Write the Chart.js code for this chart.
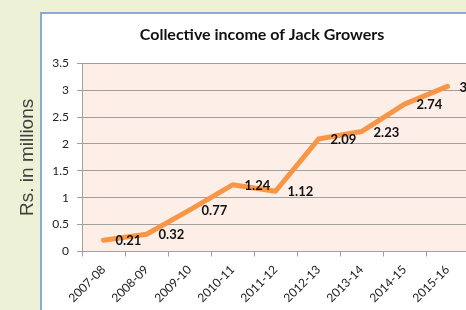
<!DOCTYPE html>
<html>
<head>
<meta charset="utf-8">
<script src="https://cdn.jsdelivr.net/npm/chart.js@4"></script>
<style>
  html, body { margin: 0; padding: 0; overflow: hidden; background: #EDF2D7; }
  #wrap { position: absolute; left: 0; top: 0; }
</style>
</head>
<body>
<div id="wrap"><canvas id="c" width="490" height="330"></canvas></div>
<script>
const years = ['2007-08', '2008-09', '2009-10', '2010-11', '2011-12', '2012-13', '2013-14', '2014-15', '2015-16'];
const income = [0.21, 0.32, 0.77, 1.24, 1.12, 2.09, 2.23, 2.74, 3.07];
const yTicks = [0, 0.5, 1, 1.5, 2, 2.5, 3, 3.5];

// green page, white chart box and pink plot area
const backdrop = {
    id: 'backdrop',
    afterLayout(chart) {
        // centre the title on the white box, not on the whole canvas
        if (chart.titleBlock) {
            chart.titleBlock.left = 55;
            chart.titleBlock.right = 469;
        }
    },
    beforeDraw(chart) {
        const ctx = chart.ctx;
        const a = chart.chartArea;
        ctx.save();
        ctx.fillStyle = '#EDF2D7';
        ctx.fillRect(0, 0, chart.width, chart.height);
        ctx.fillStyle = '#ffffff';
        ctx.fillRect(41, 13, chart.width, chart.height);
        ctx.strokeStyle = '#8DA9DA';
        ctx.lineWidth = 2;
        ctx.strokeRect(41, 13, chart.width, chart.height);
        ctx.fillStyle = '#FDEEE7';
        ctx.fillRect(a.left, a.top, a.right - a.left, a.bottom - a.top);
        ctx.restore();
    }
};

// value labels to the right of each point
const valueLabels = {
    id: 'valueLabels',
    afterDatasetsDraw(chart) {
        const ctx = chart.ctx;
        const meta = chart.getDatasetMeta(0);
        ctx.save();
        ctx.font = 'bold 13px Lato';
        ctx.fillStyle = '#111';
        ctx.textAlign = 'left';
        ctx.textBaseline = 'middle';
        meta.data.forEach((pt, i) => {
            ctx.fillText(income[i].toFixed(2), pt.x + 12, pt.y + 1);
        });
        ctx.restore();
    }
};

new Chart(document.getElementById('c'), {
    type: 'line',
    data: {
        labels: years,
        datasets: [{
            data: income,
            borderColor: '#F79646',
            borderWidth: 5,
            borderCapStyle: 'round',
            borderJoinStyle: 'round',
            pointRadius: 0,
            tension: 0
        }]
    },
    options: {
        responsive: false,
        animation: false,
        devicePixelRatio: 1,
        layout: { padding: { left: 0, right: 21, top: 0, bottom: 0 } },
        plugins: {
            legend: { display: false },
            tooltip: { enabled: false },
            title: {
                display: true,
                text: 'Collective income of Jack Growers',
                color: '#111',
                font: { family: 'Lato', size: 16, weight: 'bold' },
                padding: { top: 25, bottom: 19 }
            }
        },
        scales: {
            x: {
                offset: true,
                grid: { offset: true, drawOnChartArea: false, tickLength: 5, color: '#A0A0A0' },
                border: { color: '#A0A0A0' },
                ticks: {
                    color: '#222',
                    font: { family: 'Lato', size: 12 },
                    minRotation: 45,
                    maxRotation: 45,
                    padding: 6
                },
                afterFit(s) { s.height = 330 - 251.5; }
            },
            y: {
                min: yTicks[0],
                max: yTicks[yTicks.length - 1],
                afterBuildTicks(s) { s.ticks = yTicks.map(v => ({ value: v })); },
                grid: { color: '#A0A0A0', tickLength: 5 },
                border: { color: '#A0A0A0' },
                ticks: {
                    color: '#222',
                    font: { family: 'Lato', size: 12 },
                    padding: 8,
                    callback: v => String(v)
                },
                title: {
                    display: true,
                    text: 'Rs. in millions',
                    color: '#404040',
                    font: { family: 'Liberation Sans', size: 19 },
                    padding: { top: 16, bottom: 0 }
                },
                afterFit(s) { s.width = 82; }
            }
        }
    },
    plugins: [backdrop, valueLabels]
});
</script>
</body>
</html>
